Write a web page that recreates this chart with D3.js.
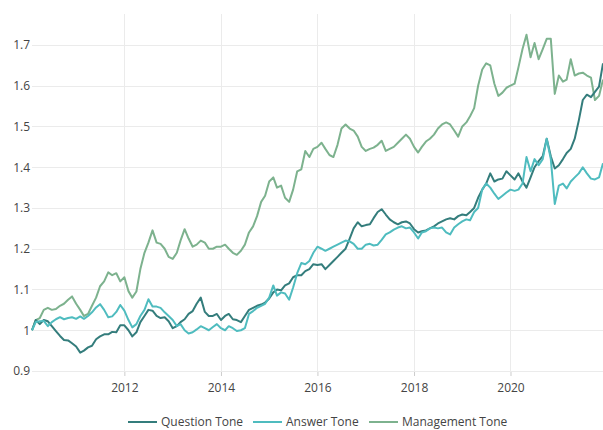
<!DOCTYPE html>
<html>
<head>
<meta charset="utf-8">
<script src="https://cdn.jsdelivr.net/npm/d3@7"></script>
<style>
  body { margin: 0; background: #fff; }
  svg { font-family: "Open Sans", sans-serif; }
</style>
</head>
<body>
<div class="chart"></div>
<script>
// monthly series, Feb 2010 .. Dec 2021
var startMonth = "2010-02", endMonth = "2021-12";

var questionTone = [
  1.000, 1.025, 1.015, 1.025, 1.022, 1.010, 0.998, 0.986, 0.976, 0.975, 0.968, 0.960,
  0.945, 0.950, 0.958, 0.962, 0.978, 0.985, 0.990, 0.990, 0.996, 0.995, 1.012, 1.012,
  1.000, 0.985, 0.995, 1.020, 1.035, 1.050, 1.048, 1.035, 1.030, 1.032, 1.022, 1.005,
  1.010, 1.020, 1.027, 1.040, 1.047, 1.065, 1.080, 1.045, 1.035, 1.035, 1.040, 1.025,
  1.035, 1.040, 1.027, 1.025, 1.020, 1.035, 1.050, 1.055, 1.060, 1.063, 1.068, 1.078,
  1.093, 1.100, 1.098, 1.110, 1.115, 1.130, 1.135, 1.135, 1.145, 1.150, 1.162, 1.160,
  1.162, 1.150, 1.160, 1.170, 1.180, 1.190, 1.200, 1.225, 1.250, 1.265, 1.255, 1.258,
  1.260, 1.275, 1.290, 1.297, 1.284, 1.272, 1.265, 1.260, 1.265, 1.267, 1.262, 1.248,
  1.240, 1.243, 1.245, 1.250, 1.255, 1.262, 1.267, 1.272, 1.275, 1.272, 1.280, 1.284,
  1.282, 1.290, 1.300, 1.325, 1.345, 1.360, 1.385, 1.365, 1.370, 1.372, 1.390, 1.380,
  1.370, 1.385, 1.365, 1.350, 1.375, 1.400, 1.415, 1.427, 1.470, 1.427, 1.397, 1.405,
  1.420, 1.435, 1.445, 1.470, 1.515, 1.565, 1.578, 1.572, 1.585, 1.598, 1.655
];

var answerTone = [
  1.000, 1.020, 1.022, 1.023, 1.010, 1.020, 1.027, 1.032, 1.027, 1.030, 1.032, 1.028,
  1.034, 1.028, 1.035, 1.044, 1.056, 1.064, 1.050, 1.032, 1.034, 1.045, 1.062, 1.048,
  1.025, 1.007, 1.015, 1.035, 1.050, 1.076, 1.058, 1.058, 1.055, 1.044, 1.035, 1.025,
  1.010, 1.015, 1.000, 0.992, 0.995, 1.002, 1.010, 1.005, 1.000, 1.008, 1.015, 1.005,
  1.000, 1.010, 1.005, 0.998, 1.000, 1.005, 1.040, 1.047, 1.055, 1.060, 1.065, 1.080,
  1.110, 1.085, 1.093, 1.090, 1.075, 1.105, 1.140, 1.165, 1.162, 1.170, 1.190, 1.205,
  1.200, 1.195, 1.200, 1.205, 1.210, 1.215, 1.220, 1.218, 1.212, 1.200, 1.200, 1.210,
  1.212, 1.208, 1.210, 1.222, 1.235, 1.240, 1.247, 1.252, 1.255, 1.250, 1.252, 1.240,
  1.225, 1.240, 1.243, 1.250, 1.252, 1.250, 1.252, 1.240, 1.235, 1.252, 1.260, 1.267,
  1.272, 1.270, 1.290, 1.300, 1.345, 1.360, 1.350, 1.335, 1.322, 1.330, 1.338, 1.345,
  1.342, 1.345, 1.360, 1.425, 1.390, 1.420, 1.405, 1.420, 1.470, 1.420, 1.310, 1.355,
  1.360, 1.348, 1.365, 1.375, 1.385, 1.400, 1.385, 1.372, 1.370, 1.375, 1.410
];

var managementTone = [
  1.000, 1.025, 1.030, 1.050, 1.055, 1.050, 1.052, 1.060, 1.065, 1.075, 1.083, 1.065,
  1.050, 1.035, 1.040, 1.060, 1.080, 1.108, 1.120, 1.142, 1.135, 1.140, 1.120, 1.130,
  1.096, 1.080, 1.095, 1.150, 1.190, 1.215, 1.245, 1.215, 1.212, 1.200, 1.180, 1.175,
  1.190, 1.220, 1.248, 1.225, 1.205, 1.210, 1.220, 1.215, 1.200, 1.200, 1.205, 1.205,
  1.210, 1.200, 1.190, 1.185, 1.195, 1.210, 1.240, 1.255, 1.280, 1.315, 1.330, 1.365,
  1.375, 1.350, 1.355, 1.325, 1.315, 1.345, 1.390, 1.395, 1.440, 1.425, 1.445, 1.450,
  1.460, 1.445, 1.430, 1.425, 1.455, 1.495, 1.505, 1.495, 1.490, 1.475, 1.450, 1.440,
  1.445, 1.448, 1.455, 1.465, 1.440, 1.445, 1.450, 1.460, 1.470, 1.480, 1.470, 1.450,
  1.436, 1.450, 1.463, 1.470, 1.480, 1.495, 1.505, 1.510, 1.505, 1.490, 1.475, 1.500,
  1.510, 1.525, 1.545, 1.600, 1.640, 1.655, 1.650, 1.605, 1.575, 1.583, 1.595, 1.600,
  1.605, 1.645, 1.690, 1.725, 1.670, 1.705, 1.665, 1.690, 1.715, 1.715, 1.580, 1.625,
  1.610, 1.615, 1.665, 1.625, 1.630, 1.632, 1.625, 1.620, 1.565, 1.575, 1.615
];

var seriesNames = ["Question Tone", "Answer Tone", "Management Tone"];
var seriesColors = ["#347d7c", "#4fbcbf", "#7db28e"];
var xTickYears = [2012, 2014, 2016, 2018, 2020];
var yTicks = [0.9, 1, 1.1, 1.2, 1.3, 1.4, 1.5, 1.6, 1.7];

var width = 603, height = 430;
var margin = { top: 14, right: 0, bottom: 59, left: 32 };

var parseMonth = d3.timeParse("%Y-%m");
var months = d3.timeMonth.range(parseMonth(startMonth), d3.timeMonth.offset(parseMonth(endMonth), 1));

var x = d3.scaleTime()
    .domain([months[0], months[months.length - 1]])
    .range([margin.left, width - margin.right]);

var y = d3.scaleLinear()
    .domain([0.9, 1.776])
    .range([height - margin.bottom, margin.top]);

var svg = d3.select(".chart")
    .append("svg")
    .attr("width", width)
    .attr("height", height);

// grid
svg.append("g")
    .selectAll("line")
    .data(yTicks)
    .enter().append("line")
    .attr("x1", margin.left)
    .attr("x2", width - margin.right)
    .attr("y1", function (d) { return Math.round(y(d)) + 0.5; })
    .attr("y2", function (d) { return Math.round(y(d)) + 0.5; })
    .attr("stroke", "#ebebeb");

var xTickDates = xTickYears.map(function (yr) { return new Date(yr, 0, 1); });

svg.append("g")
    .selectAll("line")
    .data(xTickDates)
    .enter().append("line")
    .attr("x1", function (d) { return Math.round(x(d)) + 0.5; })
    .attr("x2", function (d) { return Math.round(x(d)) + 0.5; })
    .attr("y1", margin.top)
    .attr("y2", height - margin.bottom)
    .attr("stroke", "#ebebeb");

// x axis
var xAxis = svg.append("g")
    .attr("transform", "translate(0," + (height - margin.bottom + 1) + ")")
    .call(d3.axisBottom(x).tickValues(xTickDates).tickFormat(d3.timeFormat("%Y")).tickSize(4).tickPadding(7));
xAxis.select(".domain").remove();
xAxis.selectAll("line").attr("stroke", "#ccc");
xAxis.selectAll("text").attr("fill", "#444").style("font-size", "12px").style("font-family", "Open Sans");

// y axis
var yAxis = svg.append("g")
    .attr("transform", "translate(" + (margin.left - 2) + ",0)")
    .call(d3.axisLeft(y).tickValues(yTicks).tickFormat(d3.format("")).tickSize(0).tickPadding(0));
yAxis.select(".domain").remove();
yAxis.selectAll("text").attr("fill", "#444").style("font-size", "12px").style("font-family", "Open Sans");

// lines
var allSeries = [questionTone, answerTone, managementTone];
var line = d3.line()
    .x(function (d, i) { return x(months[i]); })
    .y(function (d) { return y(d); });

var plot = svg.append("g");
[2, 0, 1].forEach(function (k) {
    plot.append("path")
        .datum(allSeries[k])
        .attr("fill", "none")
        .attr("stroke", seriesColors[k])
        .attr("stroke-width", 2)
        .attr("stroke-linejoin", "round")
        .attr("d", line);
});

// legend
var legendX = [128, 253, 369];
var legend = svg.append("g").attr("transform", "translate(0,422)");
var item = legend.selectAll("g")
    .data(seriesNames)
    .enter().append("g")
    .attr("transform", function (d, i) { return "translate(" + legendX[i] + ",0)"; });
item.append("line")
    .attr("x1", 0).attr("x2", 29)
    .attr("stroke", function (d, i) { return seriesColors[i]; })
    .attr("stroke-width", 2);
item.append("text")
    .attr("x", 33)
    .attr("dy", "0.35em")
    .attr("fill", "#444")
    .style("font-size", "12px")
    .text(function (d) { return d; });
</script>
</body>
</html>
